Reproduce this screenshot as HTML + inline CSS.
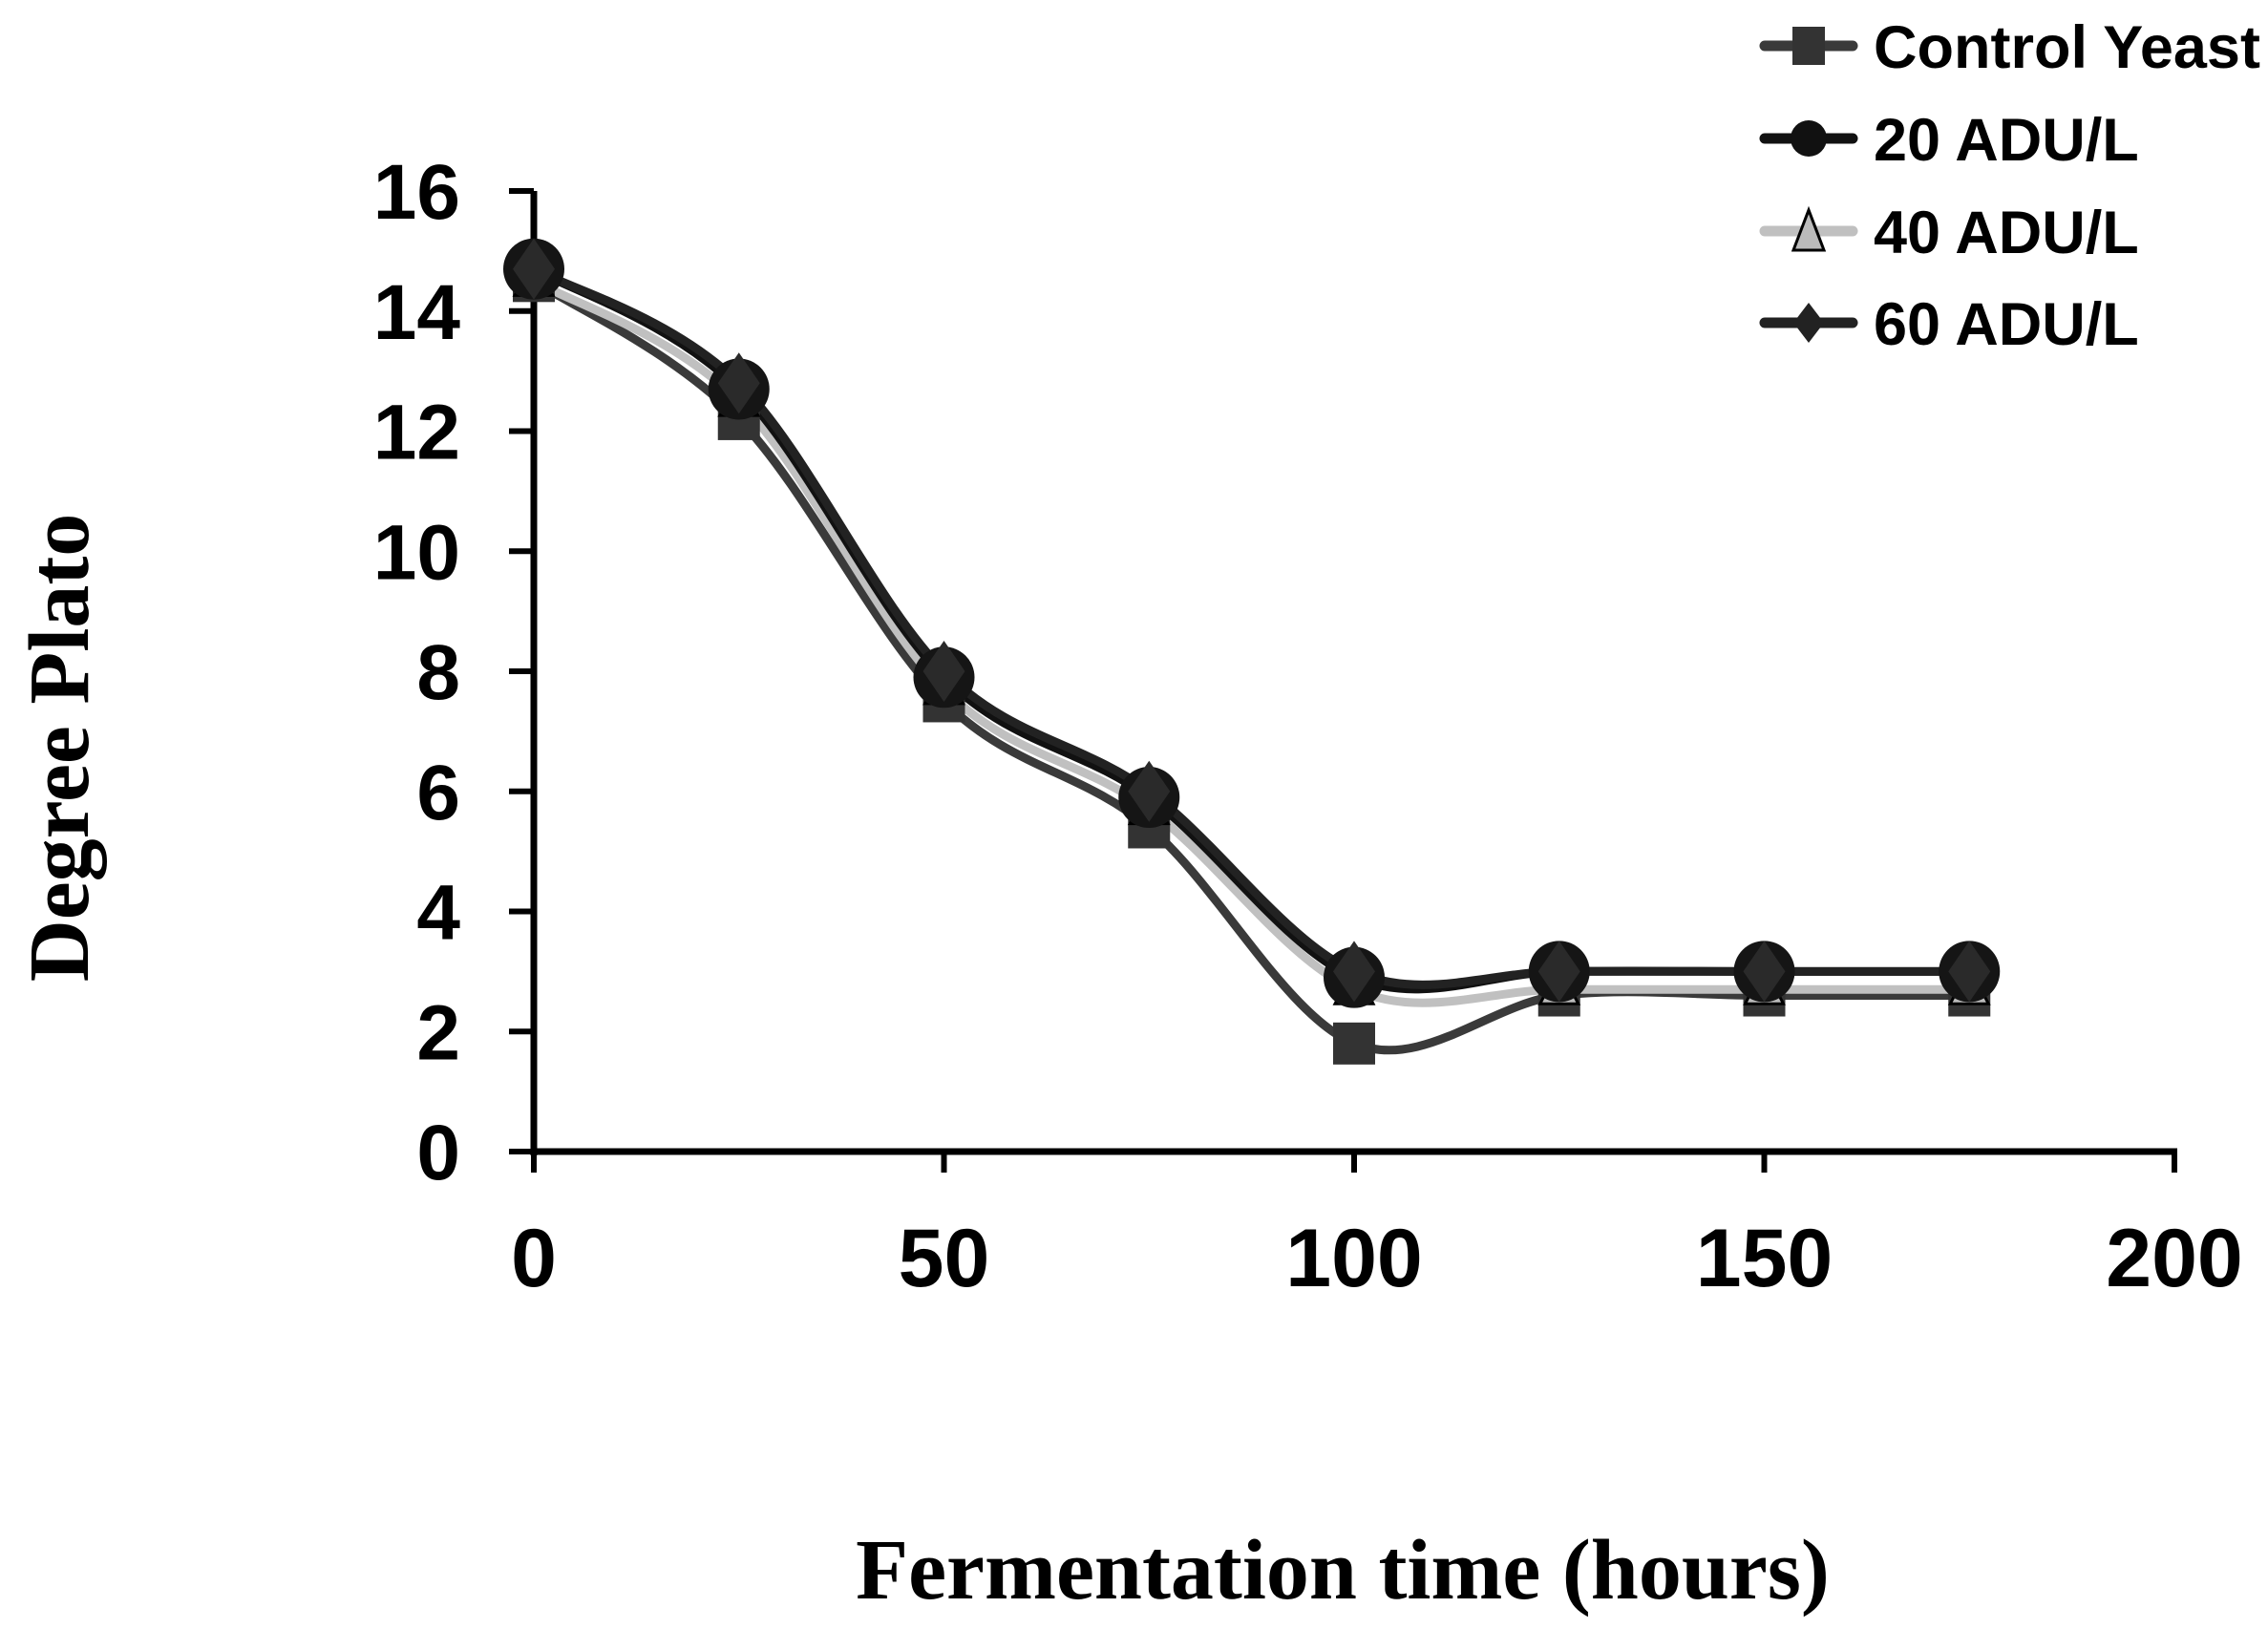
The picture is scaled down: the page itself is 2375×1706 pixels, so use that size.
<!DOCTYPE html>
<html><head><meta charset="utf-8"><style>
html,body{margin:0;padding:0;background:#fff;}
svg{display:block;}
</style></head><body>
<svg id="s" width="2375" height="1706" xmlns="http://www.w3.org/2000/svg" font-family="Liberation Sans, Arial, sans-serif">
<g id="plot"></g>
<text x="0" y="0" transform="translate(92,783) rotate(-90)" text-anchor="middle" font-family="Liberation Serif, serif" font-weight="bold" font-size="90">Degree Plato</text>
<text x="1406" y="1674" text-anchor="middle" font-family="Liberation Serif, serif" font-weight="bold" font-size="90">Fermentation time (hours)</text>
</svg>
<script>
const NS="http://www.w3.org/2000/svg";
const g=document.getElementById('plot');
function el(t,a,txt){const e=document.createElementNS(NS,t);for(const k in a)e.setAttribute(k,a[k]);if(txt!==undefined)e.textContent=txt;g.appendChild(e);return e;}
const X0=559,X1=2277,Y0=1206,Y16=200;
const px=x=>X0+(X1-X0)*x/200, py=y=>Y0-(Y0-Y16)*y/16;
el('line',{x1:X0,y1:Y16,x2:X0,y2:Y0+4,stroke:'#000','stroke-width':7});
el('line',{x1:X0-3,y1:Y0,x2:X1+3,y2:Y0,stroke:'#000','stroke-width':7});
for(let v=0;v<=16;v+=2){const y=py(v);el('line',{x1:X0-26,y1:y,x2:X0,y2:y,stroke:'#000','stroke-width':6});
 el('text',{x:482,y:y+29,'text-anchor':'end','font-weight':'bold','font-size':82},String(v));}
for(let v=0;v<=200;v+=50){const x=px(v);el('line',{x1:x,y1:Y0,x2:x,y2:Y0+22,stroke:'#000','stroke-width':6});}
[0,50,100,150,200].forEach(v=>el('text',{x:px(v),y:1347,'text-anchor':'middle','font-weight':'bold','font-size':86},String(v)));
const xs=[0,25,50,75,100,125,150,175];
const S=[
 {d:[14.5,12.2,7.5,5.4,1.8,2.6,2.6,2.6],c:'#3a3a3a',m:'sq'},
 {d:[14.5,12.5,7.7,5.7,2.7,2.7,2.7,2.7],c:'#c0c0c0',m:'tri'},
 {d:[14.7,12.7,7.9,5.9,2.9,3.0,3.0,3.0],c:'#111',m:'circ'},
 {d:[14.7,12.8,8.0,6.0,3.0,3.0,3.0,3.0],c:'#222',m:'dia'}];
function path(p){let s=`M${p[0][0]},${p[0][1]}`;for(let i=0;i<p.length-1;i++){const a=p[i-1]||p[i],b=p[i],c=p[i+1],d=p[i+2]||c;
 s+=` C${b[0]+(c[0]-a[0])/6},${b[1]+(c[1]-a[1])/6} ${c[0]-(d[0]-b[0])/6},${c[1]-(d[1]-b[1])/6} ${c[0]},${c[1]}`;}return s;}
function marker(m,x,y){
 if(m==='sq')el('rect',{x:x-22,y:y-22,width:44,height:44,fill:'#333'});
 if(m==='circ')el('circle',{cx:x,cy:y,r:32,fill:'#151515'});
 if(m==='tri')el('polygon',{points:`${x},${y-24} ${x-20},${y+15} ${x+20},${y+15}`,fill:'#bbb',stroke:'#000','stroke-width':3});
 if(m==='dia')el('polygon',{points:`${x},${y-32} ${x+22},${y} ${x},${y+32} ${x-22},${y}`,fill:'#2a2a2a'});
}
S.forEach(s=>{const p=xs.map((x,i)=>[px(x),py(s.d[i])]);el('path',{d:path(p),fill:'none',stroke:s.c,'stroke-width':9,'stroke-linecap':'round'});});
S.forEach(s=>xs.forEach((x,i)=>marker(s.m,px(x),py(s.d[i]))));
const L=[['Control Yeast','#3a3a3a','sq',48],['20 ADU/L','#111','circ',145],['40 ADU/L','#c0c0c0','tri',242],['60 ADU/L','#222','dia',338]];
L.forEach(([t,c,m,y])=>{el('line',{x1:1848,y1:y,x2:1940,y2:y,stroke:c,'stroke-width':11,'stroke-linecap':'round'});
 const x=1894; if(m==='sq')el('rect',{x:x-17,y:y-20,width:34,height:40,fill:'#333'});
 if(m==='circ')el('circle',{cx:x,cy:y,r:19,fill:'#111'});
 if(m==='tri')el('polygon',{points:`${x},${y-22} ${x-16},${y+20} ${x+16},${y+20}`,fill:'#bbb',stroke:'#000','stroke-width':3});
 if(m==='dia')el('polygon',{points:`${x},${y-21} ${x+16},${y} ${x},${y+21} ${x-16},${y}`,fill:'#222'});
 el('text',{x:1962,y:y+23,'font-weight':'bold','font-size':63},t);});
</script>
</body></html>
